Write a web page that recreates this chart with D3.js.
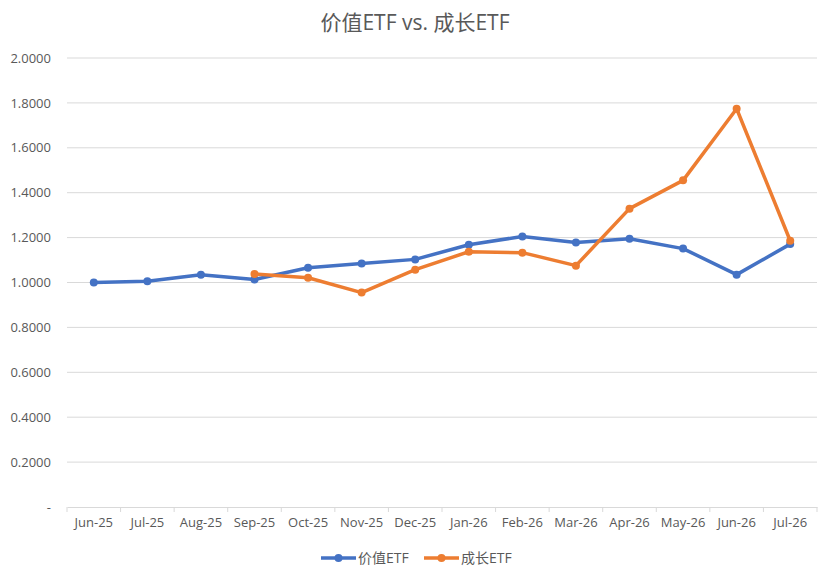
<!DOCTYPE html>
<html lang="zh">
<head>
  <meta charset="UTF-8">
  <title>价值ETF vs. 成长ETF</title>
  <script src="https://d3js.org/d3.v7.min.js"></script>
  <style>
    body {
      margin: 0;
      background: #fff;
    }
    svg text {
      font-family: "Open Sans", "Noto Sans CJK SC", sans-serif;
    }
    .tick text {
      fill: #595959;
      font-size: 13px;
    }
  </style>
</head>
<body>
  <div id="chart"></div>

  <script>
    const months = ["Jun-25", "Jul-25", "Aug-25", "Sep-25", "Oct-25", "Nov-25", "Dec-25",
                    "Jan-26", "Feb-26", "Mar-26", "Apr-26", "May-26", "Jun-26", "Jul-26"];
    const valueEtf = [1.000, 1.006, 1.035, 1.013, 1.066, 1.085, 1.103,
                      1.168, 1.205, 1.178, 1.195, 1.151, 1.035, 1.171];
    const growthEtf = [null, null, null, 1.038, 1.021, 0.955, 1.057,
                       1.137, 1.133, 1.075, 1.329, 1.455, 1.774, 1.186];
    const yTicks = [0, 0.2, 0.4, 0.6, 0.8, 1.0, 1.2, 1.4, 1.6, 1.8, 2.0];

    const width = 833;
    const height = 570;
    const margin = { top: 58, right: 16, bottom: 63, left: 67 };

    const series = [
      { name: "价值ETF", values: valueEtf, color: "#4472C4" },
      { name: "成长ETF", values: growthEtf, color: "#ED7D31" }
    ];

    const svg = d3.select("#chart").append("svg")
      .attr("width", width)
      .attr("height", height);

    const x = d3.scaleBand()
      .domain(months)
      .range([margin.left, width - margin.right]);

    const y = d3.scaleLinear()
      .domain([0, 2])
      .range([height - margin.bottom, margin.top]);

    const xc = d => x(d) + x.bandwidth() / 2;

    // gridlines
    svg.append("g")
      .selectAll("line")
      .data(yTicks.slice(1))
      .enter().append("line")
      .attr("x1", margin.left)
      .attr("x2", width - margin.right)
      .attr("y1", d => y(d))
      .attr("y2", d => y(d))
      .attr("stroke", "#d9d9d9")
      .attr("stroke-width", 1);

    // y axis (labels only)
    const yAxis = svg.append("g")
      .attr("transform", `translate(${margin.left},0)`)
      .call(d3.axisLeft(y)
        .tickValues(yTicks)
        .tickSize(0)
        .tickPadding(16)
        .tickFormat(d => d === 0 ? "-" : d3.format(".4f")(d)));
    yAxis.select(".domain").remove();

    // x axis with tick marks between categories
    const xAxis = svg.append("g")
      .attr("transform", `translate(0,${height - margin.bottom})`)
      .call(d3.axisBottom(x).tickSize(0).tickPadding(11));
    xAxis.select(".domain").attr("stroke", "#d9d9d9");
    xAxis.selectAll(".tick line").remove();
    xAxis.selectAll(".sep")
      .data(months.map(m => x(m)).concat([width - margin.right]))
      .enter().append("line")
      .attr("x1", d => d)
      .attr("x2", d => d)
      .attr("y1", 0)
      .attr("y2", 5)
      .attr("stroke", "#d9d9d9");

    const line = d3.line()
      .defined(d => d.v != null)
      .x(d => xc(d.m))
      .y(d => y(d.v));

    series.forEach(s => {
      const pts = months.map((m, i) => ({ m, v: s.values[i] }));
      const g = svg.append("g");
      g.append("path")
        .datum(pts)
        .attr("fill", "none")
        .attr("stroke", s.color)
        .attr("stroke-width", 3.5)
        .attr("stroke-linejoin", "round")
        .attr("stroke-linecap", "round")
        .attr("d", line);
      g.selectAll("circle")
        .data(pts.filter(d => d.v != null))
        .enter().append("circle")
        .attr("cx", d => xc(d.m))
        .attr("cy", d => y(d.v))
        .attr("r", 4)
        .attr("fill", s.color);
    });

    // title
    svg.append("text")
      .attr("x", 415)
      .attr("y", 30)
      .attr("text-anchor", "middle")
      .attr("fill", "#595959")
      .style("font-size", "21px")
      .text("价值ETF vs. 成长ETF");

    // legend
    const legend = svg.append("g").attr("transform", "translate(321,558)");
    series.forEach((s, i) => {
      const lg = legend.append("g").attr("transform", `translate(${i * 103},0)`);
      lg.append("line")
        .attr("x1", 0).attr("x2", 35)
        .attr("stroke", s.color)
        .attr("stroke-width", 3.5);
      lg.append("circle")
        .attr("cx", 17.5).attr("r", 4)
        .attr("fill", s.color);
      lg.append("text")
        .attr("x", 37)
        .attr("dy", "0.35em")
        .attr("fill", "#595959")
        .style("font-size", "14px")
        .text(s.name);
    });
  </script>
</body>
</html>
